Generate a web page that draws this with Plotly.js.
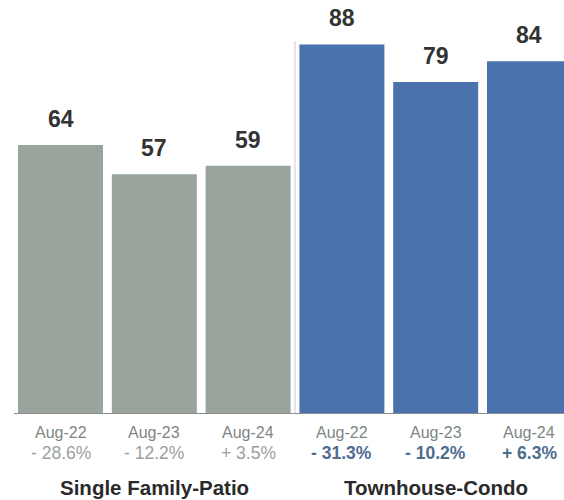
<!DOCTYPE html>
<html>
<head>
<meta charset="utf-8">
<script src="https://cdn.plot.ly/plotly-3.0.1.min.js"></script>
<style>
  html, body { margin: 0; padding: 0; background: #ffffff; }
  #chart { width: 564px; height: 500px; }
</style>
</head>
<body>
<div id="chart"></div>
<script>
// Months shown under each bar
const months = ["Aug-22", "Aug-23", "Aug-24", "Aug-22", "Aug-23", "Aug-24"];
// Single Family-Patio values and year-over-year change
const singleFamily = [64, 57, 59];
const singleFamilyChange = ["- 28.6%", "- 12.2%", "+ 3.5%"];
// Townhouse-Condo values and year-over-year change
const townhouse = [88, 79, 84];
const townhouseChange = ["- 31.3%", "- 10.2%", "+ 6.3%"];
// Group titles
const groups = ["Single Family-Patio", "Townhouse-Condo"];

const FONT = "'Liberation Sans', Arial, Helvetica, sans-serif";
const GRAY = "#98a49c";
const BLUE = "#4a73ad";

const xSingle = [0, 1, 2];
const xTown = [3, 4, 5];

const traces = [
  {
    type: "bar", x: xSingle, y: singleFamily, width: 0.906,
    marker: { color: GRAY }, hoverinfo: "skip", showlegend: false
  },
  {
    type: "bar", x: xTown, y: townhouse, width: 0.906,
    marker: { color: BLUE }, hoverinfo: "skip", showlegend: false
  }
];

const annotations = [];

// value labels above bars
function valueLabels(xs, vals) {
  xs.forEach((x, i) => {
    annotations.push({
      x: x, y: vals[i], xref: "x", yref: "y",
      text: "<b>" + vals[i] + "</b>", showarrow: false,
      yanchor: "middle", yshift: 26,
      font: { family: FONT, size: 23, color: "#333333" }
    });
  });
}
valueLabels(xSingle, singleFamily);
valueLabels(xTown, townhouse);

// month labels under the axis
months.forEach((m, i) => {
  annotations.push({
    x: i, y: 0, xref: "x", yref: "paper",
    text: m, showarrow: false, yanchor: "middle", yshift: -19,
    font: { family: FONT, size: 16, color: "#7e8682" }
  });
});

// change percentages
singleFamilyChange.forEach((t, i) => {
  annotations.push({
    x: xSingle[i], y: 0, xref: "x", yref: "paper",
    text: t, showarrow: false, yanchor: "middle", yshift: -40,
    font: { family: FONT, size: 17.5, color: "#9aa19d" }
  });
});
townhouseChange.forEach((t, i) => {
  annotations.push({
    x: xTown[i], y: 0, xref: "x", yref: "paper",
    text: "<b>" + t + "</b>", showarrow: false, yanchor: "middle", yshift: -40,
    font: { family: FONT, size: 17.5, color: "#4f6d90" }
  });
});

// group titles
[1, 4].forEach((x, i) => {
  annotations.push({
    x: x, y: 0, xref: "x", yref: "paper",
    text: "<b>" + groups[i] + "</b>", showarrow: false, yanchor: "middle", yshift: -74,
    font: { family: FONT, size: 20.5, color: "#2a2a2a" }
  });
});

const shapes = [
  // divider between the two groups
  { type: "line", xref: "x", yref: "y", x0: 2.5, x1: 2.5, y0: 0, y1: 88.8,
    line: { color: "#c9cccc", width: 1 } },
  // small ticks below the baseline
  { type: "line", xref: "x", yref: "y", ysizemode: "pixel", yanchor: 0,
    x0: -0.49, x1: -0.49, y0: 0, y1: -6, line: { color: "#8a8a8a", width: 1 } },
  { type: "line", xref: "x", yref: "y", ysizemode: "pixel", yanchor: 0,
    x0: 2.5, x1: 2.5, y0: 0, y1: -7, line: { color: "#8a8a8a", width: 1 } }
];

const layout = {
  width: 564, height: 500,
  margin: { l: 14, r: 0, t: 0, b: 87, pad: 0 },
  paper_bgcolor: "#ffffff", plot_bgcolor: "#ffffff",
  barmode: "overlay",
  xaxis: {
    range: [-0.496, 5.368], showgrid: false, zeroline: false,
    showticklabels: false, ticks: "", showline: true,
    linecolor: "#8c8c8c", linewidth: 1, fixedrange: true
  },
  yaxis: {
    range: [0, 98.6], showgrid: false, zeroline: false,
    showticklabels: false, ticks: "", showline: false, fixedrange: true
  },
  annotations: annotations,
  shapes: shapes,
  font: { family: FONT }
};

Plotly.newPlot("chart", traces, layout, { displayModeBar: false, staticPlot: true });
</script>
</body>
</html>
